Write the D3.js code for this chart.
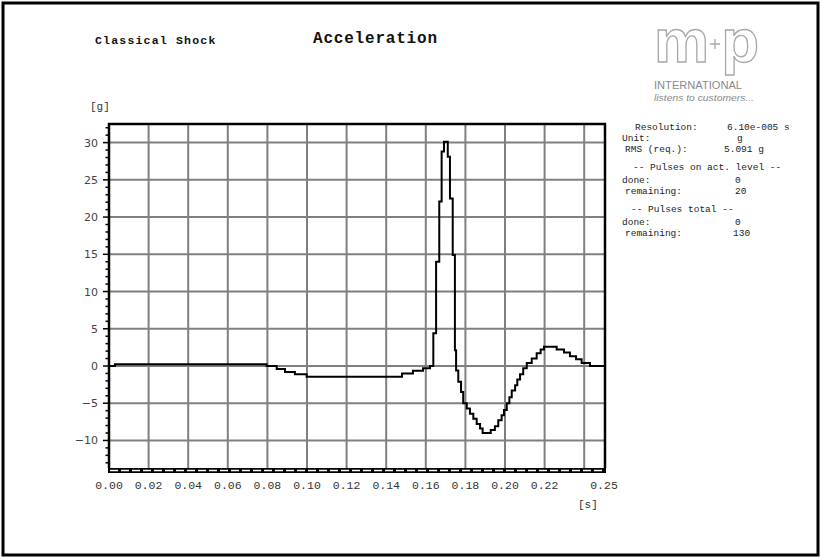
<!DOCTYPE html>
<html>
<head>
<meta charset="utf-8">
<script src="https://cdn.jsdelivr.net/npm/d3@7/dist/d3.min.js"></script>
<style>
    body { margin: 0; background: #fff; }
    svg { display: block; }
    .mono { font-family: "Liberation Mono", "DejaVu Sans Mono", monospace; }
</style>
</head>
<body>
<svg id="chart" width="820" height="558"></svg>
<script>
// x axis labels (seconds) and grid positions
const timeLabels = [0, 0.02, 0.04, 0.06, 0.08, 0.10, 0.12, 0.14, 0.16, 0.18, 0.20, 0.22, 0.25];
const timeGrid = [0.02, 0.04, 0.06, 0.08, 0.10, 0.12, 0.14, 0.16, 0.18, 0.20, 0.22, 0.24];
const accelTicks = [-10, -5, 0, 5, 10, 15, 20, 25, 30];

const pulseTime = [0, 0.003, 0.0796, 0.0847, 0.0889, 0.0939, 0.0998, 0.148, 0.1535, 0.1586, 0.1621,
    0.1638, 0.1652, 0.1668, 0.168, 0.1692, 0.1711, 0.1722, 0.1736, 0.1747, 0.1753,
    0.1764, 0.1778, 0.1789, 0.1807, 0.1823, 0.184, 0.1857, 0.1874, 0.1887, 0.1928,
    0.1949, 0.1966, 0.1983, 0.1995, 0.2009, 0.2022, 0.2034, 0.2051, 0.2062, 0.2076,
    0.2092, 0.211, 0.2135, 0.216, 0.218, 0.2197, 0.2261, 0.2298, 0.2328, 0.2359,
    0.2387, 0.2429, 0.25];
const pulseAccel = [0, 0.25, 0, -0.4, -0.8, -1.1, -1.45, -1.0, -0.65, -0.3, 0,
    4.4, 14.0, 22.1, 28.8, 30.1, 28.1, 22.5, 14.9, 2.1, -0.6,
    -2.1, -3.5, -5.0, -5.7, -6.4, -7.1, -7.8, -8.4, -9.0, -8.6,
    -8.1, -7.3, -6.6, -5.9, -5.0, -4.2, -3.3, -2.6, -1.8, -1.1,
    -0.3, 0.4, 1.0, 1.7, 2.2, 2.6, 2.2, 1.8, 1.3, 0.9,
    0.4, 0, 0];

const infoLabels = ["Resolution:", "Unit:", "RMS (req.):", "-- Pulses on act. level --",
    "done:", "remaining:", "-- Pulses total --", "done:", "remaining:"];
const infoValues = ["6.10e-005 s", "g", "5.091 g", "", "0", "20", "", "0", "130"];

const svg = d3.select("#chart");

const x = d3.scaleLinear().domain([0, 0.25]).range([109, 604]);
const y = d3.scaleLinear().domain([-13.7, 32.5]).range([468, 124]);

// outer frame
svg.append("rect")
    .attr("x", 3).attr("y", 3)
    .attr("width", 815).attr("height", 552)
    .attr("fill", "none")
    .attr("stroke", "#000")
    .attr("stroke-width", 3);

// titles
svg.append("text")
    .attr("class", "mono")
    .attr("x", 95).attr("y", 44)
    .attr("font-size", 11.5)
    .attr("font-weight", "bold")
    .attr("letter-spacing", 1.2)
    .attr("fill", "#111")
    .text("Classical Shock");

svg.append("text")
    .attr("class", "mono")
    .attr("x", 313).attr("y", 43)
    .attr("font-size", 16)
    .attr("font-weight", "bold")
    .attr("letter-spacing", 0.8)
    .attr("fill", "#111")
    .text("Acceleration");

// logo
const logo = svg.append("g").attr("transform", "translate(654,0)");
logo.append("text")
    .attr("x", 0).attr("y", 62)
    .attr("font-family", "Liberation Sans, sans-serif")
    .attr("font-size", 62)
    .attr("font-weight", "bold")
    .attr("letter-spacing", -5)
    .attr("fill", "#fff")
    .attr("stroke", "#a8a8a8")
    .attr("stroke-width", 1.3)
    .attr("textLength", 100)
    .text("mp");
logo.append("path")
    .attr("d", "M56,44H66M61,39V49")
    .attr("stroke", "#a8a8a8")
    .attr("stroke-width", 1.3);
logo.append("text")
    .attr("x", 0).attr("y", 89)
    .attr("font-family", "Liberation Sans Narrow, Liberation Sans, sans-serif")
    .attr("font-size", 10)
    .attr("fill", "#8a8a8a")
    .attr("textLength", 88)
    .attr("lengthAdjust", "spacingAndGlyphs")
    .text("INTERNATIONAL");
logo.append("text")
    .attr("x", 0).attr("y", 101)
    .attr("font-family", "Liberation Sans Narrow, Liberation Sans, sans-serif")
    .attr("font-size", 9.5)
    .attr("font-style", "italic")
    .attr("fill", "#8a8a8a")
    .attr("textLength", 100)
    .attr("lengthAdjust", "spacingAndGlyphs")
    .text("listens to customers...");

// unit labels
svg.append("text")
    .attr("class", "mono")
    .attr("x", 90).attr("y", 110)
    .attr("font-size", 11)
    .attr("fill", "#333")
    .text("[g]");

svg.append("text")
    .attr("class", "mono")
    .attr("x", 578).attr("y", 508)
    .attr("font-size", 11)
    .attr("fill", "#333")
    .text("[s]");

// grid
const grid = svg.append("g")
    .attr("stroke", "#808080")
    .attr("stroke-width", 2);

grid.selectAll("line.v")
    .data(timeGrid)
    .enter().append("line")
    .attr("x1", d => x(d)).attr("x2", d => x(d))
    .attr("y1", y.range()[1]).attr("y2", y.range()[0]);

grid.selectAll("line.h")
    .data(accelTicks)
    .enter().append("line")
    .attr("x1", x.range()[0]).attr("x2", x.range()[1])
    .attr("y1", d => y(d)).attr("y2", d => y(d));

// y axis: minor and major ticks on the left
const minorTicks = d3.range(-13, 33, 1);
svg.append("g")
    .attr("stroke", "#000")
    .attr("stroke-width", 1.5)
    .selectAll("line")
    .data(minorTicks)
    .enter().append("line")
    .attr("x1", x.range()[0])
    .attr("x2", d => x.range()[0] - (d % 5 === 0 ? 6 : 3.5))
    .attr("y1", d => y(d)).attr("y2", d => y(d));

svg.append("g")
    .selectAll("text")
    .data(accelTicks)
    .enter().append("text")
    .attr("x", 98)
    .attr("y", d => y(d) + 4)
    .attr("text-anchor", "end")
    .attr("font-family", "DejaVu Sans, sans-serif")
    .attr("font-size", 11)
    .attr("fill", "#444")
    .text(d => d < 0 ? "\u2212" + Math.abs(d) : d);

// x labels
svg.append("g")
    .selectAll("text")
    .data(timeLabels)
    .enter().append("text")
    .attr("class", "mono")
    .attr("x", d => x(d))
    .attr("y", 489)
    .attr("text-anchor", "middle")
    .attr("font-size", 11.5)
    .attr("fill", "#333")
    .text(d => d.toFixed(2));

// frame of the plot
svg.append("path")
    .attr("d", `M${x.range()[0]},${y.range()[0]}V${y.range()[1]}H${x.range()[1] + 1}V${y.range()[0]}`)
    .attr("fill", "none")
    .attr("stroke", "#000")
    .attr("stroke-width", 2.5);

svg.append("line")
    .attr("x1", x.range()[0] - 1).attr("x2", x.range()[1] + 2)
    .attr("y1", y.range()[0] + 2.5).attr("y2", y.range()[0] + 2.5)
    .attr("stroke", "#000")
    .attr("stroke-width", 5);
svg.append("line")
    .attr("x1", x.range()[0] + 1).attr("x2", x.range()[1])
    .attr("y1", y.range()[0] + 2.5).attr("y2", y.range()[0] + 2.5)
    .attr("stroke", "#fff")
    .attr("stroke-width", 1.3)
    .attr("stroke-dasharray", "8,3");

// pulse trace
const pulse = pulseTime.map((t, i) => ({ t: t, a: pulseAccel[i] }));
const line = d3.line()
    .x(d => x(d.t))
    .y(d => y(d.a))
    .curve(d3.curveStepAfter);

svg.append("path")
    .datum(pulse)
    .attr("d", line)
    .attr("fill", "none")
    .attr("stroke", "#000")
    .attr("stroke-width", 2)
    .attr("stroke-linejoin", "miter");

// status block on the right
const infoLayout = [
    { lx: 635, vx: 727, y: 130 },
    { lx: 622, vx: 737, y: 141 },
    { lx: 625, vx: 724, y: 152 },
    { lx: 633, vx: 0, y: 170 },
    { lx: 622, vx: 735, y: 183 },
    { lx: 625, vx: 735, y: 194 },
    { lx: 631, vx: 0, y: 212 },
    { lx: 622, vx: 735, y: 225 },
    { lx: 625, vx: 733, y: 236 }
];

const info = svg.append("g")
    .attr("class", "mono")
    .attr("font-size", 9.5)
    .attr("fill", "#222");

infoLabels.forEach((label, i) => {
    const pos = infoLayout[i];
    info.append("text")
        .attr("x", pos.lx).attr("y", pos.y)
        .text(label);
    if (infoValues[i]) {
        info.append("text")
            .attr("x", pos.vx).attr("y", pos.y)
            .text(infoValues[i]);
    }
});
</script>
</body>
</html>
